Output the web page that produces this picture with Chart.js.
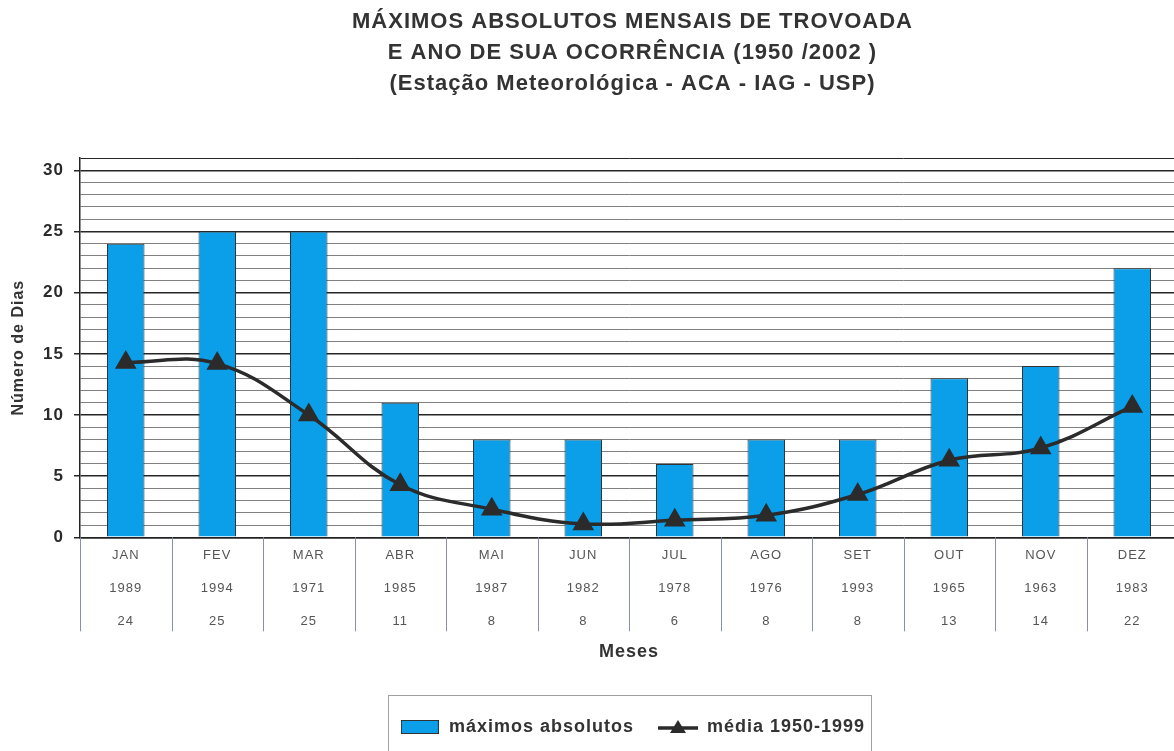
<!DOCTYPE html>
<html>
<head>
<meta charset="utf-8">
<script src="https://cdn.jsdelivr.net/npm/chart.js@4.4.1/dist/chart.umd.min.js"></script>
<style>
  html, body { margin: 0; padding: 0; background: #ffffff; overflow: hidden; }
  #wrap { width: 1265px; height: 751px; }
</style>
</head>
<body>
<div id="wrap"><canvas id="c" width="1265" height="751"></canvas></div>
<script>
// ---- data ----
const months = ['JAN','FEV','MAR','ABR','MAI','JUN','JUL','AGO','SET','OUT','NOV','DEZ'];
const years  = ['1989','1994','1971','1985','1987','1982','1978','1976','1993','1965','1963','1983'];
const maxima = [24, 25, 25, 11, 8, 8, 6, 8, 8, 13, 14, 22];
const mean   = [14.3, 14.2, 10.0, 4.3, 2.3, 1.1, 1.4, 1.8, 3.5, 6.3, 7.3, 10.7];
const titleLines = ['MÁXIMOS ABSOLUTOS MENSAIS DE TROVOADA', 'E ANO DE SUA OCORRÊNCIA (1950 /2002 )', '(Estação Meteorológica - ACA - IAG - USP)'];
const yTitle = 'Número de Dias';
const xTitle = 'Meses';
const seriesNames = ['máximos absolutos', 'média 1950-1999'];

const BLUE = '#0a9fe8';
const DARK = '#2b2b2b';
const FONT = "'Liberation Sans', Arial, sans-serif";

const xLabels = months.map((m, i) => [m, years[i], String(maxima[i])]);

// legend icons
function makeBarIcon() {
  const c = document.createElement('canvas'); c.width = 38; c.height = 14;
  const g = c.getContext('2d');
  g.fillStyle = BLUE; g.fillRect(0, 0, 38, 14);
  g.strokeStyle = '#333'; g.lineWidth = 1; g.strokeRect(0.5, 0.5, 37, 13);
  return c;
}
function makeLineIcon() {
  const c = document.createElement('canvas'); c.width = 40; c.height = 18;
  const g = c.getContext('2d');
  g.strokeStyle = DARK; g.lineWidth = 3.5;
  g.beginPath(); g.moveTo(0, 10); g.lineTo(40, 10); g.stroke();
  g.fillStyle = DARK; g.beginPath(); g.moveTo(20, 2); g.lineTo(28, 15); g.lineTo(12, 15); g.closePath(); g.fill();
  return c;
}
const icons = [makeBarIcon(), makeLineIcon()];

const spacingPlugin = {
  id: 'spacing',
  beforeUpdate(chart) { chart.ctx.letterSpacing = '1px'; },
  beforeDraw(chart) {
    const ctx = chart.ctx;
    ctx.save(); ctx.fillStyle = '#ffffff'; ctx.fillRect(0, 0, chart.width, chart.height); ctx.restore();
    ctx.letterSpacing = '1px';
  }
};

const tablePlugin = {
  id: 'tableLines',
  afterDraw(chart) {
    const ctx = chart.ctx, xs = chart.scales.x;
    const step = xs.getPixelForValue(1) - xs.getPixelForValue(0);
    const x0 = xs.getPixelForValue(0) - step / 2;
    ctx.save();
    ctx.strokeStyle = '#8a90aa'; ctx.lineWidth = 1;
    for (let i = 0; i <= months.length; i++) {
      const px = Math.round(x0 + i * step) + 0.5;
      ctx.beginPath(); ctx.moveTo(px, xs.top); ctx.lineTo(px, xs.top + 94); ctx.stroke();
    }
    // legend frame
    const lg = chart.legend;
    if (lg && lg.legendHitBoxes && lg.legendHitBoxes.length) {
      const hb = lg.legendHitBoxes;
      const l = Math.min(...hb.map(h => h.left)) - 12;
      const r = Math.max(...hb.map(h => h.left + h.width)) + 6;
      const t = Math.min(...hb.map(h => h.top)) - 23;
      ctx.strokeStyle = '#a0a0a0'; ctx.lineWidth = 1;
      ctx.strokeRect(Math.round(l) + 0.5, Math.round(t) + 0.5, Math.round(r - l), chart.height);
    }
    ctx.restore();
  }
};

new Chart(document.getElementById('c'), {
  data: {
    labels: xLabels,
    datasets: [
      {
        type: 'bar', label: seriesNames[0], data: maxima,
        backgroundColor: BLUE, borderColor: '#333', borderWidth: 1,
        barPercentage: 0.41, categoryPercentage: 1, order: 2
      },
      {
        type: 'line', label: seriesNames[1], data: mean,
        borderColor: DARK, borderWidth: 3.5, tension: 0.4, fill: false,
        pointStyle: 'triangle', pointRadius: 9, pointBackgroundColor: DARK, pointBorderColor: DARK,
        order: 1
      }
    ]
  },
  options: {
    responsive: false,
    devicePixelRatio: 1,
    animation: false,
    layout: { padding: { top: 0, left: 0, right: 0, bottom: 5 } },
    plugins: {
      tooltip: { enabled: false },
      title: {
        display: true, text: titleLines, color: '#333',
        font: { family: FONT, size: 22, weight: 'bold', lineHeight: 1.41 },
        padding: { top: 6, bottom: 59 }
      },
      legend: {
        position: 'bottom',
        labels: {
          usePointStyle: true, pointStyleWidth: 40, boxHeight: 16,
          padding: 24, color: '#333',
          font: { family: FONT, size: 18, weight: 'bold' },
          generateLabels: chart => chart.data.datasets.map((ds, i) => ({
            text: ds.label, pointStyle: icons[i], datasetIndex: i, hidden: false,
            fillStyle: 'transparent', strokeStyle: 'transparent', lineWidth: 0, fontColor: '#333'
          }))
        }
      }
    },
    scales: {
      x: {
        type: 'category',
        grid: { display: false },
        border: { display: true, color: '#222', width: 1.5 },
        ticks: {
          autoSkip: false, maxRotation: 0, padding: -6, color: '#555',
          font: { family: FONT, size: 13, lineHeight: 2.54 }
        },
        title: {
          display: true, text: xTitle, color: '#333',
          font: { family: FONT, size: 18, weight: 'bold' },
          padding: { top: 9, bottom: 31 }
        }
      },
      y: {
        type: 'linear', position: 'left', min: 0, max: 31,
        afterFit: s => { s.width = 80; },
        border: { display: true, color: '#222', width: 1.5 },
        grid: {
          color: c => (c.tick && (c.tick.value % 5 === 0 || c.tick.value === 31)) ? '#262626' : '#808080',
          lineWidth: c => (c.tick && c.tick.value % 5 === 0) ? 1.5 : 1,
          tickColor: c => (c.tick && c.tick.value % 5 === 0) ? '#262626' : 'rgba(0,0,0,0)',
          tickLength: 6
        },
        ticks: {
          stepSize: 1, autoSkip: false, padding: 10, color: '#2a2a2a',
          font: { family: FONT, size: 17, weight: 'bold' },
          callback: v => (v % 5 === 0 ? String(v) : '')
        },
        title: {
          display: true, text: yTitle, color: '#333',
          font: { family: FONT, size: 16, weight: 'bold' },
          padding: { top: 9, bottom: 0 }
        }
      },
      y2: {
        type: 'linear', position: 'right', display: true,
        afterFit: s => { s.width = 87; },
        grid: { display: false }, border: { display: false },
        ticks: { display: false }
      }
    }
  },
  plugins: [spacingPlugin, tablePlugin]
});
</script>
</body>
</html>
